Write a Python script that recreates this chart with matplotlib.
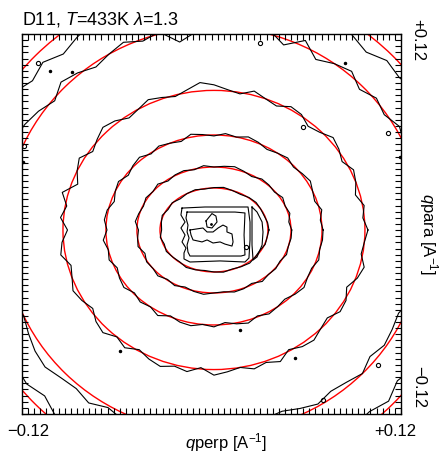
import numpy as np
import matplotlib.pyplot as plt
from matplotlib.patches import Ellipse
from matplotlib.ticker import MultipleLocator

plt.rcParams['font.family'] = ['Liberation Sans', 'DejaVu Sans']
plt.rcParams['mathtext.fontset'] = 'custom'
plt.rcParams['mathtext.rm'] = 'Liberation Sans'
plt.rcParams['mathtext.it'] = 'Liberation Sans:italic'

# centre of the fitted pattern (A^-1)
q0_perp = 0.0016
q0_para = -0.0039

# semi-axes of the fitted (red) elliptical contours, A^-1
fit_a = [0.0353, 0.0504, 0.0707, 0.0988, 0.1374, 0.1649]
fit_b = [0.0274, 0.0411, 0.0620, 0.0911, 0.1325, 0.1612]

# measured (black) contours: radial deviation from the fit in percent,
# equally spaced in the ellipse angle, starting at +qperp, counter-clockwise
dev_1 = [2, 1, -1, 0, 2, 1, -2, 0, 3, 1, -1, 2, 0, -3, 1, -2, 2, -1,
         -3, 1, -2, 2, 0, -1, 3, 1, -2, 0, 2, -1, 1, 3, 0, -2, 1, 0]
dev_2 = [1, -2, 2, 0, 3, -1, 1, 2, -2, 1, 4, 2, 0, 3, -1, 2, 1, -2, 3, 0,
         2, -1, 1, 3, -2, 0, 2, -3, 1, 0, 3, -1, 2, -2, 1, 3, 0, -1, 2, 1,
         -2, 3, 0, 1, -1, 2, 0, 1]
dev_3 = [1, -1, 2, -2, 0, 3, 1, -1, 2, 0, -2, 1, 3, 0, 2, -1, 1, 3, -2, 0,
         2, -1, 3, 1, -2, 2, 0, -3, 1, 2, -1, 3, 0, 2, -2, 1, 3, -1, 2, 0,
         4, -1, 2, 3, 0, 2, -2, 1, 3, -1, 2, 0, -2, 1, 3, 0, -1, 2, 0, 1]
dev_4 = [2, -1, 1, -3, 0, 2, -2, 1, 3, -1, -3, 1, 2, -2, 0, 3, -1, 1, 4, 6,
         2, -1, 1, 3, 0, -2, 2, 4, 1, -2, 3, 0, -4, 4, -1, 2, -3, 1, 3, -2,
         0, 3, 1, -2, 2, 4, 0, 3, -1, 2, 4, 1, 3, -1, 4, 2, 0, 3, 1, 4,
         -1, 2, 3, 0, -2, 2, 1, -3, 1, 3, -1, 0]
dev_5 = [-1, 2, -2, 1, -3, 0, 2, -1, 1, -2, 2, 0, -3, 3, -3, 2, -1, 1, 0, -2,
         -6, 1, -1, 2, 0, -2, 1, 3, -1, 2, 4, 5, 4, 1, 3, -1, 2, 0, -2, 1,
         3, 0, 2, 4, 5, 3, 2, 4, 1, 3, -1, 2, 0, 1, -1, -3, -2, -4, -5, -3,
         -1, -3, -2, 0, -3, -1, -2, -3, 0, -2, 1, -1]
dev_6 = [-3, -5, -2, -4, -6, -3, -5, -2, -4, -3, -6, -4, -2, -5, -3, -4, -6, -2,
         -4, -3, -5, -2, -6, -4, -3, -5, -7, -4, -6, -3, -5, -4, -2, -5, -3, -4,
         -2, -5, -3, -4, -6, -3, -2, -4, -3, -5, -2, -3, -4, -2, -5, -3, -4, -6,
         -3, -5, -2, -4, -3, -5, -6, -3, -4, -2, -5, -3, -6, -4, -3, -5, -2, -4]
ring_dev = [dev_1, dev_2, dev_3, dev_4, dev_5, dev_6]

# inner measured contours, (qperp, qpara) in 1e-3 A^-1
outer_box = [(-19.3, 10.4), (-4.3, 11.1), (12.1, 11.1), (23.9, 11.1), (25.2, 1.3),
             (25.2, -10.4), (24.5, -22.2), (21.9, -24.8), (5.6, -24.1), (-14.1, -24.8),
             (-18.0, -22.8), (-18.0, -18.9), (-16.7, -15.7), (-19.3, -11.7),
             (-17.3, -7.2), (-20.0, -2.6), (-17.3, 1.3), (-20.0, 5.9)]
inner_box = [(-16.0, 7.8), (-4.3, 7.8), (15.4, 7.8), (21.9, 7.2), (21.3, -7.2),
             (21.9, -20.2), (19.3, -20.9), (-14.1, -20.9), (-15.4, -18.3),
             (-16.0, -13.7), (-14.7, -9.1), (-16.0, -5.2), (-15.4, -0.7), (-16.7, 3.9)]
side_lens = [(26.5, 11.1), (29.8, 7.8), (33.1, 1.3), (33.7, -5.2), (33.1, -13.7),
             (29.8, -21.5), (27.2, -23.5), (26.5, -13.7), (26.5, 1.3)]
core_blob = [(-14.1, -3.9), (-5.6, -2.6), (-2.9, -5.2), (1.0, -5.2), (4.3, -2.6),
             (7.5, -0.7), (10.1, -2.0), (10.1, -5.2), (13.4, -6.5), (14.1, -11.7),
             (13.4, -14.4), (8.8, -13.1), (5.6, -11.7), (1.0, -12.4), (-2.9, -10.4),
             (-6.2, -11.7), (-12.1, -10.4), (-13.4, -7.2)]
core_peak = [(-3.6, 2.0), (0.3, 6.8), (2.9, 5.2), (3.6, 1.3), (0.3, -2.6), (-2.9, -2.0)]
peak_dot = (-0.3, 0.0)

# small isolated contours, 1e-3 A^-1
islet_loops = [(31.7, 118.1), (59.9, 63.3), (115.5, 59.4), (-113.6, 105.1),
               (109.0, -92.0), (-122.7, 50.9), (73.0, -114.9), (22.6, -15.0)]
islet_dots = [(87.4, 105.1), (-59.9, -82.9), (54.7, -87.5), (18.7, -69.2),
              (-123.4, 40.5), (123.4, 43.7), (-105.7, 99.9), (-91.3, 99.2)]

fig = plt.figure(figsize=(4.4, 4.54), dpi=100)
ax = fig.add_axes([0.05, 0.0881, 0.8614, 0.837])

for a, b, dev in zip(fit_a, fit_b, ring_dev):
    t = np.linspace(0, 2 * np.pi, len(dev), endpoint=False)
    r = 1 + np.array(dev) / 100.0
    x = q0_perp + a * r * np.cos(t)
    y = q0_para + b * r * np.sin(t)
    ax.plot(np.append(x, x[0]), np.append(y, y[0]), color='black', lw=0.8)

for shape in [outer_box, inner_box, side_lens, core_blob, core_peak]:
    s = np.array(shape + [shape[0]]) / 1000.0
    ax.plot(s[:, 0], s[:, 1], color='black', lw=0.8)

ax.plot(peak_dot[0] / 1000.0, peak_dot[1] / 1000.0, 'k.', ms=2)
loops = np.array(islet_loops) / 1000.0
dots = np.array(islet_dots) / 1000.0
ax.plot(loops[:, 0], loops[:, 1], 'o', mfc='none', mec='black', ms=3, mew=0.8)
ax.plot(dots[:, 0], dots[:, 1], 'k.', ms=3)

for a, b in zip(fit_a, fit_b):
    ax.add_patch(Ellipse((q0_perp, q0_para), 2 * a, 2 * b, fill=False,
                         ec='red', lw=1.0))

ax.set_xlim(-0.124, 0.124)
ax.set_ylim(-0.124, 0.124)
ax.set_xticks([-0.12, 0.12])
ax.set_xticklabels(['\u22120.12', '+0.12'])
ax.set_yticks([-0.12, 0.12])
ax.set_yticklabels(['\u22120.12', '+0.12'])
ax.xaxis.set_minor_locator(MultipleLocator(0.004))
ax.yaxis.set_minor_locator(MultipleLocator(0.004))
ax.yaxis.tick_right()
ax.tick_params(which='both', direction='in', top=True, bottom=True,
               left=True, right=True, length=4, width=0.8, color='black')
ax.tick_params(axis='x', labelsize=12, pad=7)
ax.tick_params(axis='y', labelsize=12, pad=7, labelleft=False, labelright=True)
ylabs = ax.get_yticklabels()
for lab in ylabs:
    lab.set_rotation(270)
ylabs[0].set_va('bottom')
ylabs[1].set_va('center')
for sp in ax.spines.values():
    sp.set_linewidth(1.0)

ax.set_xlabel('$q$perp [A$^{-1}$]', fontsize=12)
ax.xaxis.set_label_coords(0.538, -0.045)
ax.yaxis.set_label_position('right')
ax.set_ylabel('$q$para [A$^{-1}$]', fontsize=12, rotation=270, va='bottom')
ax.yaxis.set_label_coords(1.042, 0.474)

ax.text(0.0, 1.026, 'D11, $T$=433K $\\lambda$=1.3', transform=ax.transAxes,
        fontsize=13, va='baseline', ha='left')

fig.savefig('out.png', dpi=100)
